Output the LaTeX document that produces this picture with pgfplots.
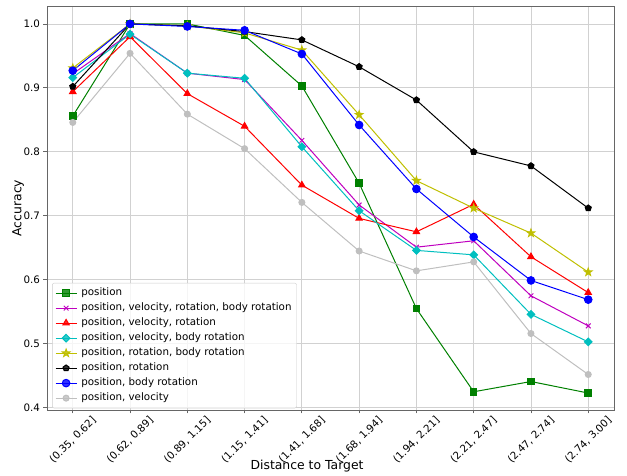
\documentclass[border=0pt]{standalone}
\usepackage{fontspec}
\setmainfont{DejaVu Sans}
\usepackage{pgfplots}
\pgfplotsset{compat=1.18}
\usetikzlibrary{plotmarks}
\definecolor{mgreen}{rgb}{0,0.5,0}
\definecolor{mmag}{rgb}{0.75,0,0.75}
\definecolor{mred}{rgb}{1,0,0}
\definecolor{mcyan}{rgb}{0,0.75,0.75}
\definecolor{myel}{rgb}{0.75,0.75,0}
\definecolor{mblue}{rgb}{0,0,1}
\definecolor{msilver}{rgb}{0.75,0.75,0.75}
\pgfdeclareplotmark{fstar}{%
  \pgfpathmoveto{\pgfpointpolar{90}{\pgfplotmarksize}}%
  \pgfpathlineto{\pgfpointpolar{126}{0.4\pgfplotmarksize}}%
  \pgfpathlineto{\pgfpointpolar{162}{\pgfplotmarksize}}%
  \pgfpathlineto{\pgfpointpolar{198}{0.4\pgfplotmarksize}}%
  \pgfpathlineto{\pgfpointpolar{234}{\pgfplotmarksize}}%
  \pgfpathlineto{\pgfpointpolar{270}{0.4\pgfplotmarksize}}%
  \pgfpathlineto{\pgfpointpolar{306}{\pgfplotmarksize}}%
  \pgfpathlineto{\pgfpointpolar{342}{0.4\pgfplotmarksize}}%
  \pgfpathlineto{\pgfpointpolar{18}{\pgfplotmarksize}}%
  \pgfpathlineto{\pgfpointpolar{54}{0.4\pgfplotmarksize}}%
  \pgfpathclose\pgfusepathqfillstroke}
\begin{document}
\begin{tikzpicture}
\begin{axis}[
  at={(0,0)}, anchor=south west,
  scale only axis, width=567pt, height=404pt,
  xmin=-0.45, xmax=9.45, ymin=0.3965, ymax=1.028,
  xtick={0,1,2,3,4,5,6,7,8,9},
  xticklabels={{(0.35, 0.62]},{(0.62, 0.89]},{(0.89, 1.15]},{(1.15, 1.41]},{(1.41, 1.68]},{(1.68, 1.94]},{(1.94, 2.21]},{(2.21, 2.47]},{(2.47, 2.74]},{(2.74, 3.00]}},
  ytick={0.4,0.5,0.6,0.7,0.8,0.9,1.0},
  yticklabel style={/pgf/number format/fixed,/pgf/number format/precision=1,/pgf/number format/fixed zerofill},
  /pgf/number format/assume math mode=true,
  tick label style={font=\fontsize{10.3}{12}\selectfont},
  xticklabel style={yshift=-26.5pt, rotate=45, anchor=center},
  xtick pos=lower, ytick pos=left,
  tick align=outside, major tick length=3.5pt,
  tick style={black!60, line width=0.8pt},
  axis line style={black!60, line width=0.8pt},
  grid=major, major grid style={black!18, line width=0.8pt},
  xlabel={Distance to Target}, ylabel={Accuracy},
  label style={font=\fontsize{12.4}{14}\selectfont},
  xlabel style={at={(axis description cs:0.4586,-0.140)}, anchor=center},
  ylabel style={at={(axis description cs:-0.0511,0.5)}, anchor=center},
  legend style={at={(axis description cs:0.009,0.004)}, anchor=south west,
    font=\fontsize{10.3}{12}\selectfont, draw=black!20, rounded corners=2pt,
    fill=white, fill opacity=0.8, text opacity=1, inner sep=2.8pt, row sep=0.5pt, column sep=2pt,
    nodes={inner sep=2.2pt, text height=7.7pt, text depth=2.4pt}},
  legend cell align=left,
  legend image code/.code={\draw[mark repeat=2,mark phase=2] plot coordinates {(0pt,0pt)(10.5pt,0pt)(21pt,0pt)};},
  every axis plot/.append style={line width=1pt},
]
\addplot[mgreen, mark=square*, mark size=3.3pt] coordinates {(0,0.856)(1,1.0)(2,1.0)(3,0.982)(4,0.903)(5,0.751)(6,0.555)(7,0.425)(8,0.441)(9,0.423)};
\addlegendentry{position}
\addplot[mmag, mark=x, mark size=3.3pt] coordinates {(0,0.922)(1,0.985)(2,0.923)(3,0.913)(4,0.818)(5,0.717)(6,0.651)(7,0.661)(8,0.575)(9,0.528)};
\addlegendentry{position, velocity, rotation, body rotation}
\addplot[mred, mark=triangle*, mark size=3.7pt] coordinates {(0,0.894)(1,0.980)(2,0.891)(3,0.840)(4,0.748)(5,0.696)(6,0.675)(7,0.718)(8,0.636)(9,0.580)};
\addlegendentry{position, velocity, rotation}
\addplot[mcyan, mark=square*, mark size=2.7pt, mark options={rotate=45}] coordinates {(0,0.916)(1,0.984)(2,0.923)(3,0.915)(4,0.808)(5,0.708)(6,0.646)(7,0.639)(8,0.546)(9,0.503)};
\addlegendentry{position, velocity, body rotation}
\addplot[myel, mark=fstar, mark size=4pt] coordinates {(0,0.931)(1,1.0)(2,0.997)(3,0.986)(4,0.959)(5,0.858)(6,0.755)(7,0.712)(8,0.673)(9,0.612)};
\addlegendentry{position, rotation, body rotation}
\addplot[black, mark=pentagon*, mark size=3.2pt] coordinates {(0,0.902)(1,1.0)(2,0.997)(3,0.988)(4,0.975)(5,0.933)(6,0.881)(7,0.800)(8,0.778)(9,0.712)};
\addlegendentry{position, rotation}
\addplot[mblue, mark=*, mark size=3.8pt] coordinates {(0,0.927)(1,1.0)(2,0.996)(3,0.990)(4,0.953)(5,0.842)(6,0.742)(7,0.667)(8,0.599)(9,0.569)};
\addlegendentry{position, body rotation}
\addplot[msilver, mark=*, mark size=3pt] coordinates {(0,0.846)(1,0.954)(2,0.859)(3,0.805)(4,0.721)(5,0.645)(6,0.614)(7,0.628)(8,0.516)(9,0.452)};
\addlegendentry{position, velocity}
\end{axis}
\pgfresetboundingbox
\path[use as bounding box] (-47pt,-66pt) rectangle (580pt,410pt);
\end{tikzpicture}
\end{document}
